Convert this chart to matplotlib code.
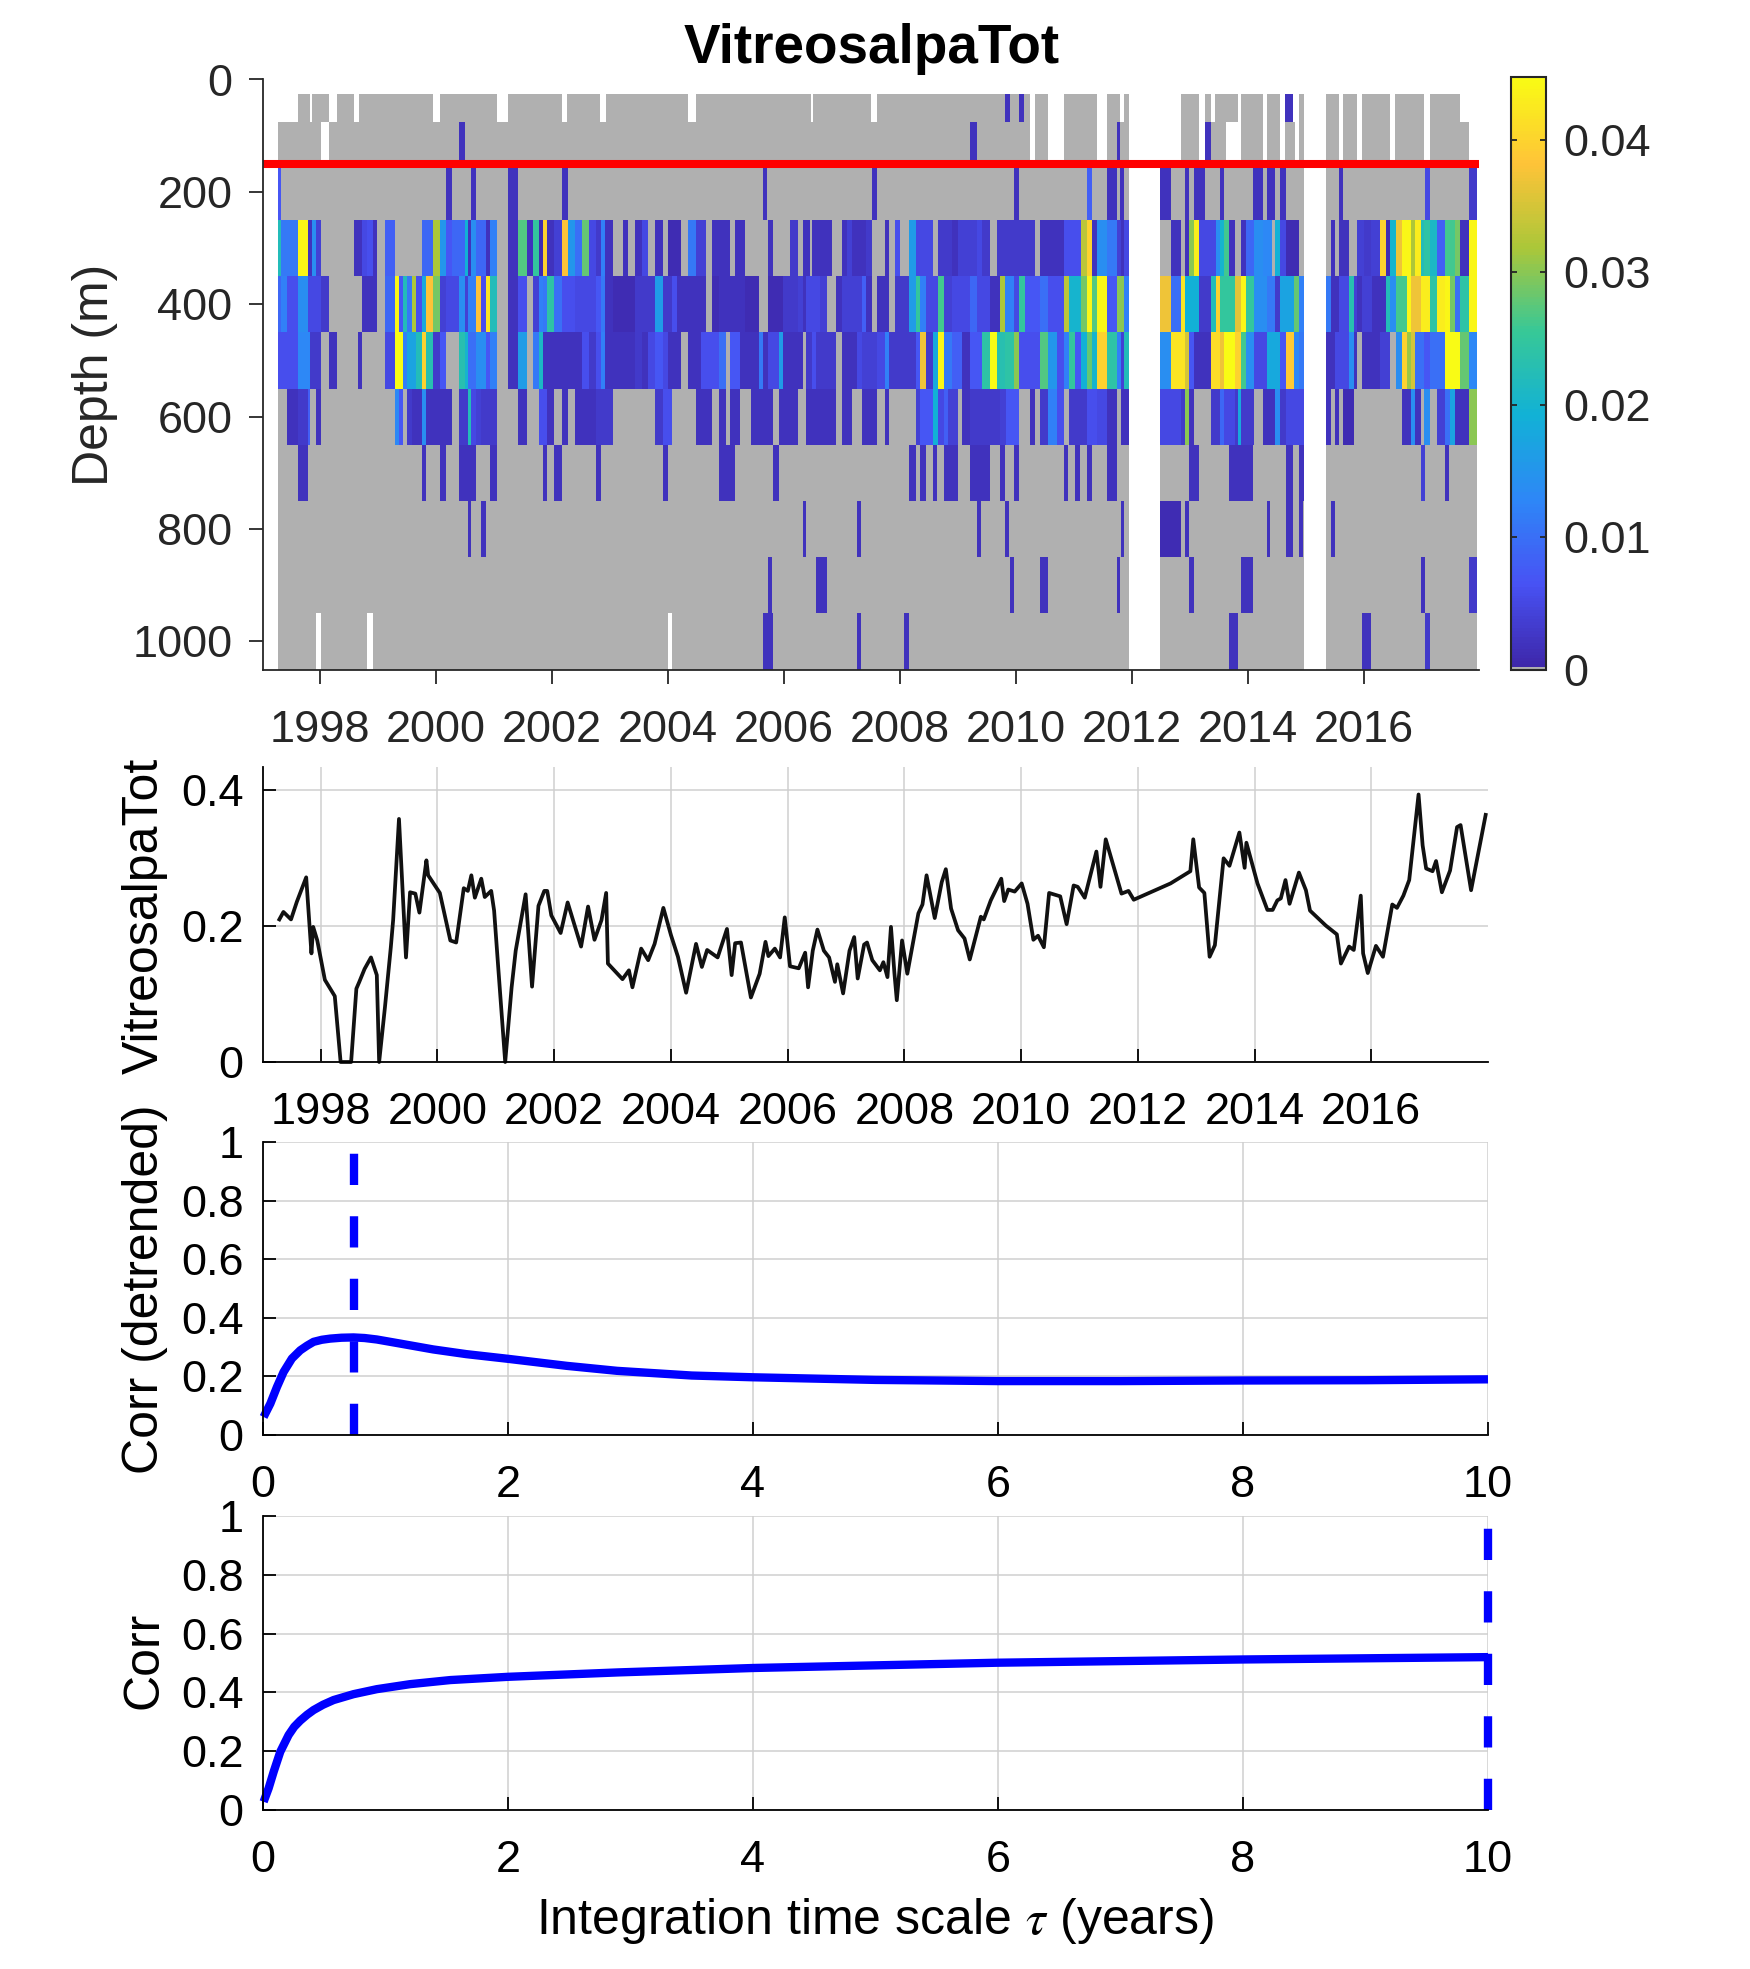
import numpy as np
import matplotlib
matplotlib.use('Agg')
import matplotlib.pyplot as plt
from matplotlib.colors import LinearSegmentedColormap, ListedColormap, Normalize

plt.rcParams['font.family'] = ['Liberation Sans', 'DejaVu Sans']
plt.rcParams['mathtext.fontset'] = 'stix'

# depth bins of the section (m)
depth_edges = [25, 75, 150, 250, 350, 450, 550, 650, 750, 850, 950, 1050]

# stretches of time sampled in each bin (start, end); outside them the section is blank
cover_25 = [(1997.63, 1997.83), (1997.87, 1998.16), (1998.30, 1998.59), (1998.67, 1999.96), (2000.07, 2001.05),
            (2001.24, 2002.18), (2002.27, 2002.84), (2002.93, 2004.35), (2004.49, 2006.47), (2006.51, 2007.51),
            (2007.61, 2010.24), (2010.34, 2010.56), (2010.83, 2011.40), (2011.57, 2011.80), (2011.87, 2011.95),
            (2012.85, 2013.16), (2013.26, 2013.37), (2013.44, 2013.83), (2013.88, 2014.26), (2014.33, 2014.56),
            (2014.65, 2014.79), (2014.88, 2014.97), (2015.35, 2015.58), (2015.64, 2015.89), (2015.98, 2016.45),
            (2016.55, 2017.05), (2017.14, 2017.66)]
cover_75 = [(1997.28, 1998.02), (1998.16, 2010.24), (2010.34, 2010.56), (2010.83, 2011.40), (2011.57, 2011.95),
            (2012.85, 2013.16), (2013.26, 2013.63), (2013.88, 2014.26), (2014.33, 2014.56), (2014.65, 2014.81),
            (2014.88, 2014.97), (2015.35, 2015.58), (2015.64, 2015.89), (2015.98, 2016.45), (2016.55, 2017.05),
            (2017.14, 2017.81)]
cover_main = [(1997.28, 2011.95), (2012.49, 2014.97), (2015.35, 2017.95)]
cover_950 = [(1997.28, 1997.94), (1998.02, 1998.82), (1998.92, 2004.00), (2004.07, 2011.95), (2012.49, 2014.97),
             (2015.35, 2017.95)]

# concentration per bin: (start year, end year, value), anything not listed is zero
row_25 = [(2009.81, 2009.90, .002), (2010.06, 2010.15, .002), (2014.65, 2014.79, .002)]
row_75 = [(2000.40, 2000.51, .002), (2009.21, 2009.34, .002), (2011.75, 2011.80, .002), (2013.26, 2013.37, .002)]
row_150 = [(1997.28, 1997.33, .007), (2000.18, 2000.28, .002), (2000.60, 2000.69, .002), (2001.24, 2001.42, .002),
           (2002.17, 2002.28, .002), (2005.64, 2005.72, .002), (2007.52, 2007.61, .002), (2009.97, 2010.06, .002),
           (2011.23, 2011.31, .008), (2011.57, 2011.75, .002), (2011.80, 2011.87, .002), (2012.49, 2012.68, .002),
           (2012.92, 2012.99, .002), (2013.07, 2013.26, .002), (2013.52, 2013.59, .002), (2014.10, 2014.26, .002),
           (2014.33, 2014.47, .002), (2014.56, 2014.66, .002), (2015.58, 2015.64, .002), (2017.06, 2017.14, .005),
           (2017.81, 2017.95, .003)]
row_250 = [(1997.28, 1997.33, .022), (1997.33, 1997.62, .011), (1997.62, 1997.80, .044), (1997.80, 1997.87, .002),
           (1997.87, 1997.93, .014), (1997.93, 1998.02, .004), (1998.59, 1998.73, .002), (1998.73, 1998.81, .005),
           (1998.81, 1998.92, .006), (1998.92, 1998.99, .002), (1999.12, 1999.30, .008), (1999.76, 1999.95, .009),
           (1999.95, 2000.07, .032), (2000.07, 2000.18, .015), (2000.18, 2000.28, .007), (2000.28, 2000.50, .009),
           (2000.50, 2000.55, .019), (2000.55, 2000.61, .002), (2000.61, 2000.69, .014), (2000.69, 2000.87, .009),
           (2000.87, 2000.93, .002), (2000.93, 2001.05, .012), (2001.24, 2001.42, .002), (2001.42, 2001.57, .027),
           (2001.57, 2001.68, .002), (2001.68, 2001.78, .025), (2001.78, 2001.85, .001), (2001.85, 2001.92, .040),
           (2001.92, 2002.04, .002), (2002.04, 2002.18, .004), (2002.18, 2002.28, .038), (2002.28, 2002.40, .015),
           (2002.40, 2002.52, .010), (2002.52, 2002.64, .028), (2002.64, 2002.76, .005), (2002.76, 2002.85, .003),
           (2002.85, 2002.92, .012), (2002.92, 2003.06, .002), (2003.23, 2003.31, .002), (2003.43, 2003.55, .002),
           (2003.55, 2003.66, .005), (2003.78, 2003.92, .002), (2004.00, 2004.23, .001), (2004.35, 2004.49, .011),
           (2004.49, 2004.66, .004), (2004.76, 2005.07, .002), (2005.16, 2005.33, .002), (2005.73, 2005.81, .002),
           (2006.11, 2006.24, .003), (2006.33, 2006.45, .002), (2006.49, 2006.83, .002), (2007.00, 2007.09, .002),
           (2007.09, 2007.18, .004), (2007.18, 2007.42, .002), (2007.42, 2007.52, .003), (2007.74, 2007.81, .002),
           (2007.92, 2008.00, .006), (2008.16, 2008.28, .016), (2008.28, 2008.57, .005), (2008.66, 2008.76, .003),
           (2008.76, 2008.90, .003), (2008.90, 2009.00, .002), (2009.00, 2009.33, .004), (2009.33, 2009.42, .005),
           (2009.42, 2009.55, .003), (2009.68, 2010.33, .003), (2010.42, 2010.83, .002), (2010.83, 2011.12, .006),
           (2011.12, 2011.23, .033), (2011.23, 2011.31, .040), (2011.31, 2011.40, .002), (2011.40, 2011.57, .014),
           (2011.57, 2011.74, .011), (2011.74, 2011.81, .004), (2011.81, 2011.87, .002), (2011.87, 2011.95, .005),
           (2012.68, 2012.85, .002), (2012.92, 2012.99, .002), (2012.99, 2013.07, .030), (2013.07, 2013.16, .043),
           (2013.16, 2013.45, .005), (2013.45, 2013.52, .014), (2013.52, 2013.59, .020), (2013.59, 2013.68, .026),
           (2013.68, 2013.78, .002), (2013.88, 2013.97, .002), (2013.97, 2014.11, .009), (2014.11, 2014.26, .014),
           (2014.26, 2014.42, .013), (2014.47, 2014.56, .019), (2014.56, 2014.66, .005), (2014.66, 2014.88, .001),
           (2015.44, 2015.50, .002), (2015.57, 2015.75, .002), (2015.88, 2016.00, .004), (2016.00, 2016.12, .003),
           (2016.12, 2016.28, .004), (2016.28, 2016.38, .040), (2016.38, 2016.45, .001), (2016.45, 2016.56, .020),
           (2016.56, 2016.66, .037), (2016.66, 2016.81, .044), (2016.81, 2016.88, .032), (2016.88, 2016.99, .043),
           (2016.99, 2017.05, .022), (2017.05, 2017.14, .024), (2017.14, 2017.26, .021), (2017.26, 2017.40, .008),
           (2017.40, 2017.57, .026), (2017.57, 2017.66, .029), (2017.66, 2017.81, .002), (2017.81, 2017.95, .044)]
row_350 = [(1997.28, 1997.33, .009), (1997.33, 1997.43, .012), (1997.43, 1997.62, .006), (1997.62, 1997.80, .014),
           (1997.80, 1998.02, .005), (1998.02, 1998.16, .003), (1998.73, 1998.99, .002), (1999.12, 1999.30, .009),
           (1999.30, 1999.37, .044), (1999.37, 1999.43, .007), (1999.43, 1999.50, .022), (1999.50, 1999.59, .011),
           (1999.59, 1999.66, .032), (1999.66, 1999.76, .006), (1999.76, 1999.83, .018), (1999.83, 1999.95, .038),
           (1999.95, 2000.07, .029), (2000.07, 2000.18, .004), (2000.18, 2000.40, .005), (2000.40, 2000.50, .014),
           (2000.50, 2000.55, .004), (2000.55, 2000.69, .012), (2000.69, 2000.78, .038), (2000.78, 2000.87, .006),
           (2000.87, 2000.93, .042), (2000.93, 2001.05, .022), (2001.24, 2001.42, .002), (2001.42, 2001.57, .006),
           (2001.68, 2001.78, .004), (2001.78, 2001.85, .012), (2001.85, 2001.92, .011), (2001.92, 2002.04, .024),
           (2002.04, 2002.18, .010), (2002.18, 2002.40, .006), (2002.40, 2002.76, .005), (2002.76, 2002.85, .007),
           (2002.85, 2002.92, .011), (2002.92, 2003.06, .002), (2003.06, 2003.43, .001), (2003.43, 2003.78, .003),
           (2003.78, 2003.92, .016), (2003.92, 2004.07, .003), (2004.07, 2004.16, .006), (2004.16, 2004.66, .002),
           (2004.76, 2004.88, .001), (2004.88, 2005.33, .002), (2005.33, 2005.57, .001), (2005.73, 2005.99, .001),
           (2005.99, 2006.24, .003), (2006.24, 2006.33, .004), (2006.33, 2006.38, .002), (2006.38, 2006.62, .005),
           (2006.62, 2006.74, .004), (2006.90, 2007.00, .002), (2007.00, 2007.35, .004), (2007.35, 2007.42, .008),
           (2007.42, 2007.52, .002), (2007.61, 2007.81, .002), (2007.92, 2008.16, .003), (2008.16, 2008.28, .016),
           (2008.28, 2008.35, .025), (2008.35, 2008.45, .012), (2008.45, 2008.66, .005), (2008.66, 2008.76, .026),
           (2008.76, 2008.90, .004), (2008.90, 2009.21, .005), (2009.21, 2009.33, .009), (2009.33, 2009.55, .005),
           (2009.55, 2009.73, .002), (2009.73, 2009.81, .032), (2009.81, 2009.97, .012), (2009.97, 2010.05, .005),
           (2010.05, 2010.16, .025), (2010.16, 2010.42, .007), (2010.42, 2010.55, .010), (2010.55, 2010.83, .006),
           (2010.83, 2010.92, .033), (2010.92, 2011.12, .020), (2011.12, 2011.23, .029), (2011.23, 2011.31, .044),
           (2011.31, 2011.40, .027), (2011.40, 2011.57, .044), (2011.57, 2011.74, .007), (2011.74, 2011.87, .030),
           (2011.87, 2011.95, .012), (2012.49, 2012.68, .037), (2012.68, 2012.85, .010), (2012.85, 2012.92, .042),
           (2012.92, 2013.16, .019), (2013.16, 2013.37, .003), (2013.37, 2013.45, .022), (2013.45, 2013.52, .040),
           (2013.52, 2013.78, .025), (2013.78, 2013.88, .036), (2013.88, 2013.97, .044), (2013.97, 2014.11, .025),
           (2014.11, 2014.33, .014), (2014.33, 2014.47, .011), (2014.47, 2014.56, .003), (2014.56, 2014.80, .017),
           (2014.80, 2014.88, .028), (2014.88, 2014.97, .012), (2015.35, 2015.44, .011), (2015.44, 2015.57, .002),
           (2015.57, 2015.75, .005), (2015.75, 2015.83, .023), (2015.83, 2015.88, .004), (2015.88, 2015.98, .002),
           (2015.98, 2016.14, .004), (2016.14, 2016.38, .002), (2016.38, 2016.45, .022), (2016.45, 2016.56, .014),
           (2016.56, 2016.75, .026), (2016.75, 2016.81, .044), (2016.81, 2016.99, .037), (2016.99, 2017.14, .043),
           (2017.14, 2017.26, .024), (2017.26, 2017.40, .043), (2017.40, 2017.49, .044), (2017.49, 2017.57, .029),
           (2017.57, 2017.66, .010), (2017.66, 2017.81, .024), (2017.81, 2017.95, .044)]
row_450 = [(1997.28, 1997.62, .006), (1997.62, 1997.83, .013), (1997.83, 1998.02, .003), (1998.16, 1998.30, .002),
           (1998.66, 1998.73, .002), (1999.12, 1999.30, .005), (1999.30, 1999.43, .045), (1999.43, 1999.50, .012),
           (1999.50, 1999.66, .017), (1999.66, 1999.76, .022), (1999.76, 1999.83, .040), (1999.83, 1999.95, .023),
           (1999.95, 2000.07, .003), (2000.07, 2000.18, .007), (2000.40, 2000.50, .023), (2000.50, 2000.55, .020),
           (2000.55, 2000.69, .010), (2000.69, 2000.87, .014), (2000.87, 2000.93, .007), (2000.93, 2001.05, .012),
           (2001.24, 2001.42, .002), (2001.42, 2001.57, .016), (2001.68, 2001.78, .011), (2001.78, 2001.85, .021),
           (2001.85, 2002.52, .002), (2002.52, 2002.64, .006), (2002.64, 2002.76, .003), (2002.76, 2002.85, .006),
           (2002.85, 2002.92, .012), (2002.92, 2003.43, .002), (2003.43, 2003.55, .003), (2003.55, 2003.66, .002),
           (2003.66, 2003.78, .005), (2003.78, 2003.92, .007), (2003.92, 2004.00, .005), (2004.00, 2004.22, .002),
           (2004.35, 2004.57, .002), (2004.57, 2004.88, .006), (2004.88, 2005.00, .010), (2005.07, 2005.24, .007),
           (2005.24, 2005.57, .002), (2005.57, 2005.64, .011), (2005.64, 2005.73, .002), (2005.73, 2005.92, .005),
           (2005.92, 2005.99, .016), (2005.99, 2006.33, .002), (2006.38, 2006.49, .003), (2006.49, 2006.56, .006),
           (2006.56, 2006.90, .003), (2007.00, 2007.26, .002), (2007.26, 2007.35, .005), (2007.35, 2007.61, .004),
           (2007.61, 2007.74, .005), (2007.74, 2007.81, .012), (2007.81, 2008.28, .003), (2008.28, 2008.35, .007),
           (2008.35, 2008.45, .037), (2008.45, 2008.57, .003), (2008.57, 2008.66, .018), (2008.66, 2008.76, .044),
           (2008.76, 2008.90, .011), (2008.90, 2009.07, .008), (2009.07, 2009.21, .002), (2009.21, 2009.42, .007),
           (2009.42, 2009.55, .024), (2009.55, 2009.68, .045), (2009.68, 2009.81, .023), (2009.81, 2009.97, .024),
           (2009.97, 2010.05, .030), (2010.05, 2010.42, .006), (2010.42, 2010.55, .027), (2010.55, 2010.71, .015),
           (2010.71, 2010.83, .006), (2010.83, 2010.92, .012), (2010.92, 2011.02, .025), (2011.02, 2011.12, .007),
           (2011.12, 2011.23, .019), (2011.23, 2011.31, .028), (2011.31, 2011.40, .020), (2011.40, 2011.57, .040),
           (2011.57, 2011.74, .024), (2011.74, 2011.81, .012), (2011.81, 2011.87, .004), (2011.87, 2011.95, .022),
           (2012.49, 2012.68, .014), (2012.68, 2012.92, .042), (2012.92, 2012.99, .035), (2012.99, 2013.07, .007),
           (2013.07, 2013.37, .002), (2013.37, 2013.52, .041), (2013.52, 2013.59, .037), (2013.59, 2013.78, .045),
           (2013.78, 2013.88, .040), (2013.88, 2013.97, .026), (2013.97, 2014.11, .014), (2014.11, 2014.33, .005),
           (2014.33, 2014.56, .018), (2014.56, 2014.66, .007), (2014.66, 2014.80, .039), (2014.80, 2014.88, .013),
           (2014.88, 2014.97, .011), (2015.35, 2015.50, .002), (2015.50, 2015.75, .005), (2015.75, 2015.83, .014),
           (2015.83, 2015.88, .002), (2015.98, 2016.28, .002), (2016.28, 2016.45, .004), (2016.56, 2016.66, .014),
           (2016.66, 2016.75, .040), (2016.75, 2016.81, .031), (2016.81, 2016.88, .035), (2016.88, 2017.05, .010),
           (2017.05, 2017.14, .007), (2017.14, 2017.40, .010), (2017.40, 2017.66, .045), (2017.66, 2017.81, .028),
           (2017.81, 2017.95, .013)]
row_550 = [(1997.43, 1997.62, .002), (1997.62, 1997.80, .003), (1997.80, 1997.83, .008), (1997.93, 1998.02, .002),
           (1999.30, 1999.37, .013), (1999.37, 1999.43, .007), (1999.50, 1999.59, .003), (1999.59, 1999.76, .002),
           (1999.76, 1999.83, .014), (1999.83, 2000.28, .002), (2000.40, 2000.55, .003), (2000.55, 2000.61, .022),
           (2000.61, 2000.69, .005), (2000.69, 2000.78, .004), (2000.78, 2001.05, .003), (2001.42, 2001.57, .002),
           (2001.78, 2001.92, .006), (2001.92, 2002.04, .002), (2002.18, 2002.28, .002), (2002.40, 2002.76, .002),
           (2002.76, 2003.06, .003), (2003.78, 2003.92, .003), (2003.92, 2004.07, .006), (2004.49, 2004.76, .002),
           (2004.88, 2005.00, .002), (2005.07, 2005.24, .002), (2005.43, 2005.81, .002), (2005.92, 2006.24, .002),
           (2006.38, 2006.90, .002), (2007.00, 2007.18, .002), (2007.35, 2007.61, .002), (2007.74, 2007.81, .002),
           (2008.28, 2008.35, .004), (2008.35, 2008.57, .007), (2008.57, 2008.66, .019), (2008.66, 2008.76, .005),
           (2008.76, 2008.83, .008), (2008.83, 2009.00, .004), (2009.07, 2009.21, .002), (2009.21, 2009.73, .003),
           (2009.73, 2009.84, .004), (2009.84, 2010.05, .007), (2010.24, 2010.33, .002), (2010.42, 2010.55, .003),
           (2010.55, 2010.71, .012), (2010.71, 2010.83, .006), (2010.92, 2011.12, .003), (2011.12, 2011.23, .003),
           (2011.23, 2011.40, .006), (2011.40, 2011.57, .005), (2011.57, 2011.74, .002), (2011.81, 2011.95, .002),
           (2012.49, 2012.85, .005), (2012.85, 2012.92, .003), (2012.92, 2012.99, .030), (2012.99, 2013.07, .002),
           (2013.37, 2013.52, .003), (2013.52, 2013.59, .009), (2013.59, 2013.78, .005), (2013.78, 2013.83, .003),
           (2013.83, 2013.88, .018), (2013.88, 2014.11, .003), (2014.26, 2014.47, .002), (2014.47, 2014.56, .014),
           (2014.56, 2014.66, .003), (2014.66, 2014.97, .005), (2015.35, 2015.44, .002), (2015.50, 2015.57, .002),
           (2015.64, 2015.83, .001), (2016.66, 2016.81, .002), (2016.81, 2016.88, .014), (2016.88, 2016.99, .002),
           (2017.05, 2017.14, .014), (2017.26, 2017.40, .004), (2017.40, 2017.49, .010), (2017.49, 2017.57, .017),
           (2017.57, 2017.81, .002), (2017.81, 2017.95, .030)]
row_650 = [(1997.63, 1997.80, .002), (1999.76, 1999.83, .002), (2000.07, 2000.17, .002), (2000.40, 2000.69, .002),
           (2000.93, 2001.05, .002), (2001.85, 2001.92, .002), (2002.04, 2002.17, .002), (2002.76, 2002.85, .002),
           (2003.92, 2004.00, .002), (2004.88, 2005.16, .002), (2005.81, 2005.92, .002), (2008.16, 2008.28, .002),
           (2008.35, 2008.45, .002), (2008.58, 2008.65, .002), (2008.76, 2009.00, .002), (2009.21, 2009.55, .002),
           (2009.73, 2009.81, .002), (2009.97, 2010.06, .002), (2010.83, 2010.91, .002), (2011.02, 2011.11, .002),
           (2011.23, 2011.31, .002), (2011.57, 2011.75, .002), (2012.99, 2013.16, .002), (2013.68, 2014.10, .002),
           (2014.67, 2014.79, .002), (2014.89, 2014.97, .002), (2016.99, 2017.06, .004), (2017.40, 2017.48, .002)]
row_750 = [(2000.55, 2000.60, .002), (2000.78, 2000.86, .002), (2006.34, 2006.38, .002), (2007.26, 2007.34, .002),
           (2009.34, 2009.41, .002), (2009.82, 2009.89, .002), (2011.82, 2011.86, .002), (2012.49, 2012.85, .001),
           (2012.92, 2012.99, .002), (2014.34, 2014.39, .002), (2014.66, 2014.79, .002), (2014.89, 2014.96, .002),
           (2015.44, 2015.50, .002)]
row_850 = [(2005.73, 2005.80, .002), (2006.56, 2006.75, .002), (2009.90, 2009.97, .002), (2010.42, 2010.56, .002),
           (2011.75, 2011.80, .002), (2012.99, 2013.07, .002), (2013.88, 2014.10, .002), (2016.99, 2017.06, .002),
           (2017.81, 2017.95, .003)]
row_950 = [(2005.64, 2005.81, .002), (2007.26, 2007.34, .002), (2008.07, 2008.16, .002), (2013.68, 2013.83, .002),
           (2015.98, 2016.12, .002), (2017.06, 2017.14, .003)]

section_rows = [row_25, row_75, row_150, row_250, row_350, row_450, row_550, row_650, row_750, row_850, row_950]
section_cover = [cover_25, cover_75] + [cover_main] * 8 + [cover_950]

# 150 m integrated series
series_years = [1997.29, 1997.36, 1997.49, 1997.59, 1997.75, 1997.84, 1997.87, 1997.94, 1998.07, 1998.24, 1998.34,
                1998.52, 1998.61, 1998.66, 1998.75, 1998.86, 1998.96, 1999.00, 1999.10, 1999.20, 1999.24, 1999.34,
                1999.39, 1999.46, 1999.53, 1999.62, 1999.69, 1999.81, 1999.84, 2000.04, 2000.22, 2000.32, 2000.45,
                2000.52, 2000.58, 2000.64, 2000.75, 2000.81, 2000.92, 2000.97, 2001.04, 2001.16, 2001.27, 2001.34,
                2001.51, 2001.62, 2001.73, 2001.83, 2001.88, 2001.95, 2002.11, 2002.23, 2002.46, 2002.58, 2002.69,
                2002.81, 2002.89, 2002.92, 2003.17, 2003.28, 2003.34, 2003.49, 2003.61, 2003.72, 2003.87, 2004.00,
                2004.12, 2004.26, 2004.43, 2004.53, 2004.62, 2004.80, 2004.96, 2005.04, 2005.10, 2005.20, 2005.37,
                2005.52, 2005.62, 2005.67, 2005.78, 2005.87, 2005.95, 2006.04, 2006.19, 2006.30, 2006.35, 2006.43,
                2006.51, 2006.62, 2006.71, 2006.81, 2006.85, 2006.95, 2007.06, 2007.14, 2007.20, 2007.31, 2007.36,
                2007.45, 2007.58, 2007.64, 2007.71, 2007.77, 2007.83, 2007.87, 2007.96, 2008.05, 2008.24, 2008.31,
                2008.38, 2008.52, 2008.64, 2008.71, 2008.80, 2008.92, 2009.03, 2009.12, 2009.31, 2009.36, 2009.48,
                2009.66, 2009.71, 2009.78, 2009.89, 2010.01, 2010.11, 2010.21, 2010.29, 2010.39, 2010.48, 2010.67,
                2010.78, 2010.90, 2010.97, 2011.09, 2011.29, 2011.36, 2011.45, 2011.72, 2011.84, 2011.93, 2012.56,
                2012.90, 2012.95, 2013.05, 2013.14, 2013.23, 2013.32, 2013.47, 2013.57, 2013.74, 2013.83, 2013.86,
                2014.05, 2014.22, 2014.31, 2014.39, 2014.45, 2014.53, 2014.60, 2014.76, 2014.88, 2014.95, 2015.22,
                2015.41, 2015.48, 2015.62, 2015.70, 2015.82, 2015.86, 2015.94, 2016.08, 2016.20, 2016.36, 2016.44,
                2016.55, 2016.65, 2016.81, 2016.88, 2016.94, 2017.05, 2017.11, 2017.21, 2017.35, 2017.47, 2017.53,
                2017.71, 2017.96]
series_vals = [.210, .221, .210, .236, .272, .160, .199, .179, .121, .097, 0, 0, .108, .118, .137, .154, .128, 0,
               .081, .169, .209, .358, .272, .154, .250, .248, .220, .297, .275, .249, .179, .176, .256, .252, .275,
               .242, .270, .243, .252, .223, .140, 0, .110, .164, .247, .111, .230, .252, .252, .216, .190, .235,
               .170, .229, .180, .209, .249, .145, .122, .135, .110, .167, .150, .174, .227, .187, .155, .102, .174,
               .140, .165, .154, .196, .128, .175, .176, .095, .130, .177, .156, .167, .154, .213, .141, .138, .161,
               .110, .164, .195, .164, .154, .118, .144, .101, .164, .184, .123, .173, .176, .150, .135, .147, .125,
               .199, .130, .091, .179, .130, .219, .232, .275, .212, .265, .284, .226, .194, .182, .151, .214, .210,
               .238, .270, .237, .254, .251, .263, .233, .180, .186, .169, .249, .244, .203, .260, .258, .242, .310,
               .258, .328, .248, .252, .239, .263, .281, .328, .257, .249, .155, .172, .300, .289, .338, .286, .323,
               .263, .224, .224, .238, .241, .268, .233, .279, .253, .223, .201, .188, .145, .170, .165, .245, .160,
               .131, .171, .155, .232, .227, .245, .268, .394, .319, .285, .281, .296, .250, .282, .346, .349, .253,
               .364]

# correlation against integration time scale
tau_det = [.005, .06, .114, .168, .236, .304, .36, .413, .48, .549, .64, .739, .829, .929, 1.12, 1.39, 1.66, 2.0, 2.48,
           2.89, 3.5, 4.0, 5.0, 6.0, 7.0, 8.0, 9.0, 10.0]
corr_det = [.0615, .107, .164, .215, .261, .289, .305, .318, .325, .329, .332, .333, .331, .326, .312, .292, .276, .26,
            .236, .219, .203, .197, .188, .184, .184, .186, .187, .19]
tau_raw = [.005, .046, .087, .141, .209, .255, .304, .36, .413, .49, .576, .739, .929, 1.2, 1.53, 2.0, 2.48, 2.9, 4.0,
           6.0, 8.0, 10.0]
corr_raw = [.028, .074, .13, .198, .255, .283, .304, .324, .34, .358, .374, .394, .411, .428, .442, .453, .461, .468,
            .483, .501, .512, .52]
best_det = 0.74
best_raw = 10

year_ticks = list(range(1998, 2018, 2))
depth_ticks = [0, 200, 400, 600, 800, 1000]
cbar_ticks = [0, .01, .02, .03, .04]
cbar_labels = ['0', '0.01', '0.02', '0.03', '0.04']
corr_ticks = [0, .2, .4, .6, .8, 1]
corr_labels = ['0', '0.2', '0.4', '0.6', '0.8', '1']

W, H = 1750, 1969
FS = 32.5
LABEL_FS = 36
DARK = '#262626'
GRID = '#cfcfcf'


def axes_px(left, top, right, bottom):
    return fig.add_axes([left / W, 1 - bottom / H, (right - left) / W, (bottom - top) / H])


def label_px(x, y, text, **kw):
    fig.text(x / W, 1 - y / H, text, ha='center', va='center', **kw)


def style(ax, colour='black', **kw):
    ax.spines['top'].set_visible(False)
    ax.spines['right'].set_visible(False)
    for s in ['left', 'bottom']:
        ax.spines[s].set_linewidth(1.3)
        ax.spines[s].set_color(colour)
    ax.tick_params(labelsize=FS, colors=colour, width=1.3, **kw)


def section_grid():
    t0, dt = 1997.0, 0.01
    edges = t0 + dt * np.arange(2101)
    grid = np.full((len(section_rows), 2100), np.nan)
    ind = lambda t: int(round((t - t0) / dt))
    for i, (cover, runs) in enumerate(zip(section_cover, section_rows)):
        for s, e in cover:
            grid[i, ind(s):ind(e)] = 0
        for s, e, v in runs:
            grid[i, ind(s):ind(e)] = v
    return edges, grid


def correlation(ax, tau, corr, best):
    ax.set_xlim(0, 10)
    ax.set_ylim(0, 1)
    ax.set_yticks(corr_ticks)
    ax.set_yticklabels(corr_labels)
    ax.set_xticks(range(0, 11, 2))
    ax.grid(color=GRID, linewidth=1.1)
    ax.set_axisbelow(True)
    ax.plot(tau, corr, color='#0000ff', linewidth=6, solid_capstyle='butt', clip_on=False)
    ax.plot([best, best], [0, 1], color='#0000ff', linewidth=6, linestyle=(0, (3.75, 3.75)),
            dash_capstyle='butt', clip_on=False)
    style(ax, direction='in', length=9.5)
    ax.tick_params(axis='y', pad=14)
    ax.tick_params(axis='x', pad=21.5)


fig = plt.figure(figsize=(W / 100, H / 100), dpi=100)

# parula, with grey for the zero bin
parula = LinearSegmentedColormap.from_list('parula', [(.2422, .1504, .6603), (.2810, .3228, .9579), (.1786, .5289, .9682),
                                                      (.0689, .6948, .8394), (.2161, .7843, .5923), (.6720, .7793, .2227),
                                                      (.9970, .7659, .2199), (.9769, .9839, .0805)])
cols = parula(np.linspace(0, 1, 200))
cols[0] = (.69, .69, .69, 1)
cmap = ListedColormap(cols)
cmap.set_bad('white')
norm = Normalize(0, .0447)

ax1 = axes_px(263, 79.5, 1479, 669.5)
edges, grid = section_grid()
mesh = ax1.pcolormesh(edges, depth_edges, np.ma.masked_invalid(grid), cmap=cmap, norm=norm)
ax1.plot([1997.02, 2017.99], [150, 150], color='red', linewidth=5.8, solid_capstyle='butt')
ax1.set_xlim(1997.02, 2017.99)
ax1.set_ylim(1050, 0)
ax1.set_xticks(year_ticks)
ax1.set_yticks(depth_ticks)
style(ax1, colour=DARK, direction='out', length=10)
ax1.tick_params(axis='x', pad=19.5)
ax1.tick_params(axis='y', pad=12)

cax = axes_px(1510.5, 77.5, 1545.5, 669.5)
cbar = fig.colorbar(mesh, cax=cax, ticks=cbar_ticks)
cbar.ax.set_yticklabels(cbar_labels)
cbar.ax.tick_params(labelsize=FS, colors=DARK, direction='in', length=4.5, width=1.3, pad=13, left=True, right=True)
cbar.outline.set_linewidth(1.5)
cbar.outline.set_edgecolor(DARK)

ax2 = axes_px(263, 767, 1488, 1062)
ax2.plot(series_years, series_vals, color='#111111', linewidth=2.7, clip_on=False)
ax2.set_xlim(1997.01, 2018)
ax2.set_ylim(0, 0.4345)
ax2.set_xticks(year_ticks)
ax2.set_yticks([0, .2, .4])
ax2.set_yticklabels(['0', '0.2', '0.4'])
ax2.grid(color=GRID, linewidth=1.1)
ax2.set_axisbelow(True)
style(ax2, direction='in', length=9.5)
ax2.tick_params(axis='x', pad=21.5)
ax2.tick_params(axis='y', pad=14)

ax3 = axes_px(263, 1142, 1488, 1435)
correlation(ax3, tau_det, corr_det, best_det)

ax4 = axes_px(263, 1516, 1488, 1810)
correlation(ax4, tau_raw, corr_raw, best_raw)

label_px(872, 49, 'VitreosalpaTot', fontsize=39.5, fontweight='bold', color='black')
label_px(95.5, 375, 'Depth (m)', fontsize=LABEL_FS, rotation=90, color=DARK)
label_px(145, 916, 'VitreosalpaTot', fontsize=LABEL_FS, rotation=90)
label_px(145, 1289, 'Corr (detrended)', fontsize=LABEL_FS, rotation=90)
label_px(145, 1660, 'Corr', fontsize=LABEL_FS, rotation=90)
label_px(875, 1921, r'Integration time scale $\tau$ (years)', fontsize=LABEL_FS)

fig.savefig('out.png', dpi=100)
